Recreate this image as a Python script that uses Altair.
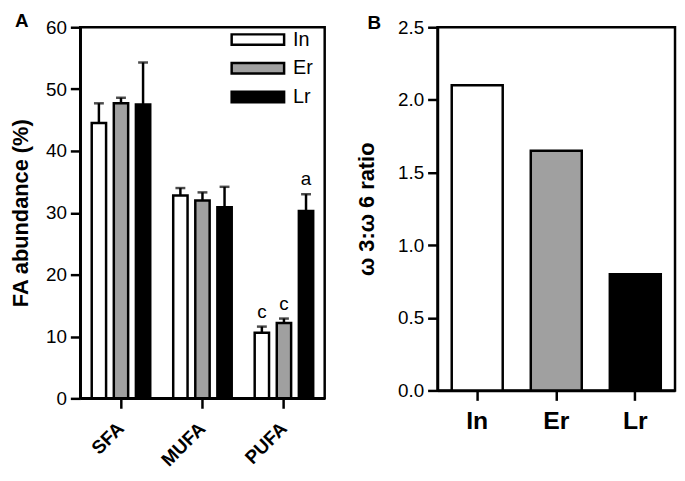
import altair as alt
import pandas as pd

# ---- data ----
categories = ["SFA", "MUFA", "PUFA"]
groups = ["In", "Er", "Lr"]
mean_In = [44.5, 32.8, 10.6]
mean_Er = [47.7, 32.0, 12.2]
mean_Lr = [47.5, 30.9, 30.3]
sem_In = [3.2, 1.2, 1.0]
sem_Er = [0.9, 1.3, 0.7]
sem_Lr = [6.8, 3.3, 2.7]
letters_In = ["", "", "c"]
letters_Er = ["", "", "c"]
letters_Lr = ["", "", "a"]
ratio_groups = ["In", "Er", "Lr"]
ratio_values = [2.1, 1.65, 0.8]
a_ticks = [0, 10, 20, 30, 40, 50, 60]
b_ticks = [0.0, 0.5, 1.0, 1.5, 2.0, 2.5]
fill_colors = ["white", "#a0a0a0", "black"]

rows = []
for g, m, s, l in zip(groups, [mean_In, mean_Er, mean_Lr], [sem_In, sem_Er, sem_Lr],
                      [letters_In, letters_Er, letters_Lr]):
    for c, mv, sv, lv in zip(categories, m, s, l):
        rows.append({"cat": c, "grp": g, "mean": mv, "upper": mv + sv, "letter": lv})
dfA = pd.DataFrame(rows)
dfB = pd.DataFrame({"grp": ratio_groups, "ratio": ratio_values})

FONT = "Liberation Sans"
fill_scale = alt.Scale(domain=groups, range=fill_colors)

xA = alt.X("cat:N", sort=categories, title=None,
           scale=alt.Scale(paddingInner=0, paddingOuter=0),
           axis=alt.Axis(labelAngle=-45, labelAlign="right", labelBaseline="middle",
                         labelFontWeight="bold", labelFontSize=19, labelPadding=17))
xoff = alt.XOffset("grp:N", sort=groups, scale=alt.Scale(paddingInner=0.35, paddingOuter=0.52))

baseA = alt.Chart(dfA)
barsA = baseA.mark_bar(stroke="black", strokeWidth=2.5).encode(
    x=xA, xOffset=xoff,
    y=alt.Y("mean:Q", title="FA abundance (%)",
            scale=alt.Scale(domain=[0, 60], nice=False),
            axis=alt.Axis(values=a_ticks, titlePadding=13)),
    fill=alt.Fill("grp:N", scale=fill_scale, sort=groups,
                  legend=alt.Legend(title=None, orient="none", legendX=165, legendY=-2,
                                    symbolType="M-2,-0.4H2V0.4H-2Z", symbolSize=702,
                                    symbolStrokeColor="black", symbolStrokeWidth=2.5,
                                    symbolOpacity=1, labelFontSize=20, labelOffset=21,
                                    rowPadding=4, padding=0)),
)
errA = baseA.mark_rule(color="black", strokeWidth=2.5).encode(
    x=xA, xOffset=xoff, y="mean:Q", y2="upper:Q")
capA = baseA.mark_tick(color="black", thickness=2.5, size=10, orient="horizontal").encode(
    x=xA, xOffset=xoff, y="upper:Q")
letA = baseA.mark_text(fontSize=19, baseline="bottom", dy=-5, font=FONT).encode(
    x=xA, xOffset=xoff, y="upper:Q", text="letter:N")
labA = alt.Chart(pd.DataFrame({"t": ["A"]})).mark_text(
    fontSize=19, fontWeight="bold", font=FONT, align="center", baseline="alphabetic").encode(
    text="t:N", x=alt.value(-59), y=alt.value(0))

panelA = alt.layer(barsA, errA, capA, letA, labA).properties(width=247, height=375)

barsB = alt.Chart(dfB).mark_bar(stroke="black", strokeWidth=2.5).encode(
    x=alt.X("grp:N", sort=ratio_groups, title=None,
            scale=alt.Scale(paddingInner=0.355, paddingOuter=0.18),
            axis=alt.Axis(labelAngle=0, labelFontWeight="bold", labelFontSize=25, labelPadding=8)),
    y=alt.Y("ratio:Q", title="ω 3:ω 6 ratio",
            scale=alt.Scale(domain=[0, 2.5], nice=False),
            axis=alt.Axis(values=b_ticks, format=".1f", titlePadding=19)),
    fill=alt.Fill("grp:N", scale=fill_scale, legend=None),
)
labB = alt.Chart(pd.DataFrame({"t": ["B"]})).mark_text(
    fontSize=19, fontWeight="bold", font=FONT, align="center", baseline="alphabetic").encode(
    text="t:N", x=alt.value(-64), y=alt.value(2))
panelB = alt.layer(barsB, labB).properties(width=240, height=367)

chart = alt.hconcat(panelA, panelB, spacing=28).resolve_scale(fill="independent").properties(
    padding=0
).configure(font=FONT).configure_view(
    stroke="black", strokeWidth=2.5
).configure_axis(
    domainColor="black", domainWidth=2.5, tickColor="black", tickWidth=2.5, tickSize=10,
    labelColor="black", labelFontSize=19, labelPadding=4, labelFont=FONT,
    titleColor="black", titleFontSize=22, titleFontWeight="bold", titleFont=FONT, grid=False
).configure_legend(labelColor="black", labelFont=FONT)

chart.save("out.html", embed_options={"renderer": "svg", "actions": False})
